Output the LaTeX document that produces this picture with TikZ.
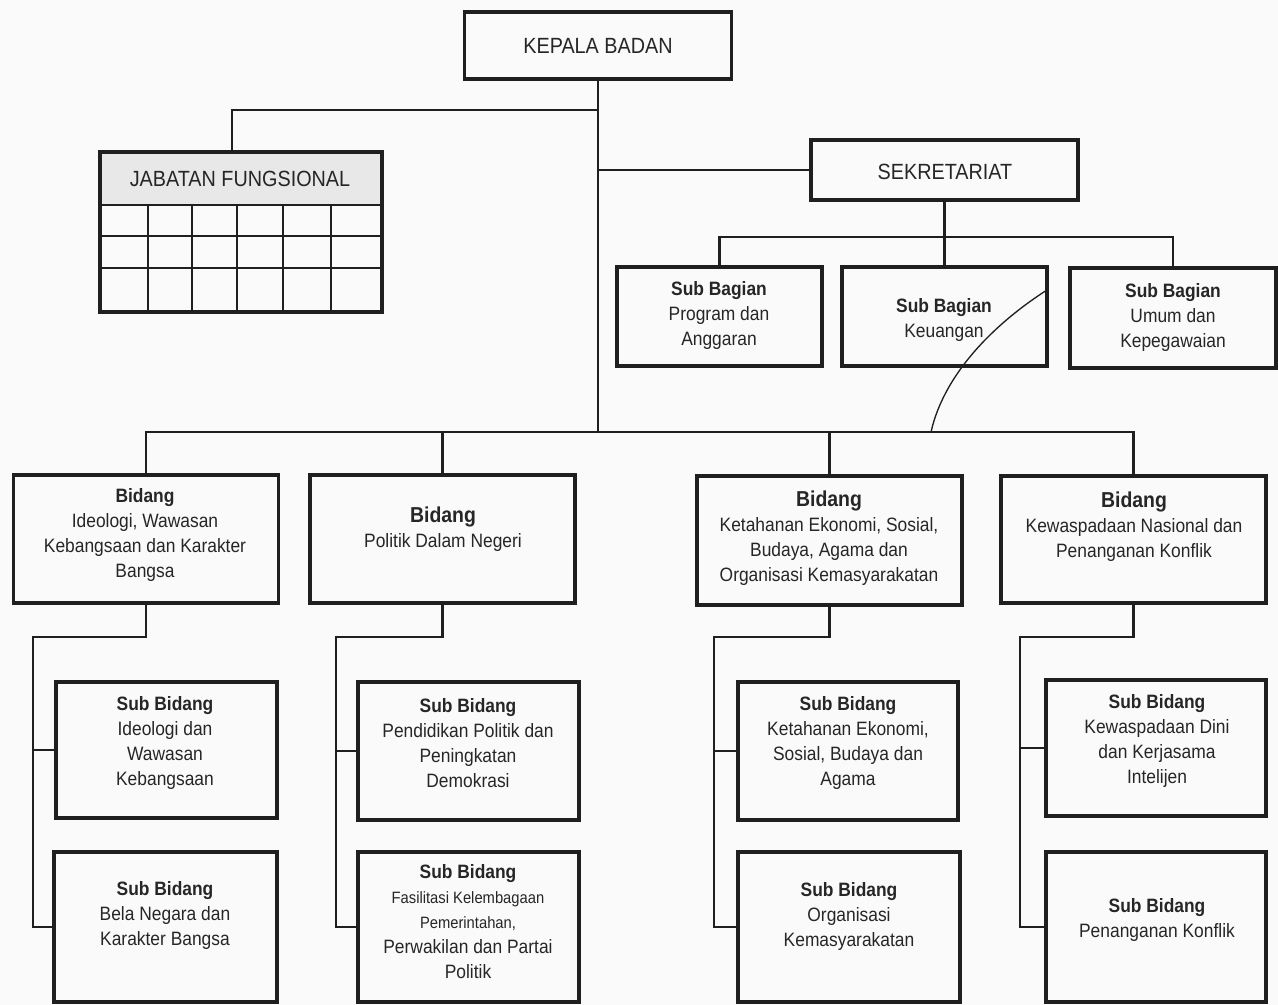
\documentclass[tikz,border=0pt]{standalone}
\usepackage{fontspec}
\setmainfont{Liberation Sans}[FakeStretch=0.9]
\usetikzlibrary{calc,positioning}

\newcommand{\px}{0.75pt}
\newcommand{\bodyfont}{\fontsize{14.5}{18.75}\selectfont}
\newcommand{\titlefont}{\fontsize{16.5}{20}\selectfont}
\newcommand{\smallbody}{\fontsize{12.3}{17.5}\selectfont}
\newcommand{\bighead}[1]{{\fontsize{16.2}{18.75}\selectfont\bfseries #1}}

\begin{document}
\begin{tikzpicture}[x=0.75pt,y=-0.75pt]
	\tikzstyle{every node}=[font=\bodyfont, text=black!85]
	\tikzstyle{box}=[draw=black!88, line width=2.3pt, inner sep=0pt]
	\tikzstyle{txt}=[align=center, inner sep=0pt]
	\tikzstyle{link}=[draw=black!88, line width=2.1pt]
	\fill[gray!4] (0,0) rectangle (1278,1005);
	\useasboundingbox (0,0) rectangle (1278,1005);
	% top
	\node[box, minimum width=267*\px, minimum height=67*\px] (kepala) at (598,45.5) {};
	\node[txt, font=\titlefont] (kepalatxt) at (kepala) {KEPALA BADAN};
	\fill[gray!18] (100,152) rectangle (382,205);
	\node[box, minimum width=282*\px, minimum height=160*\px] (fungsional) at (241,232) {};
	\node[txt, font=\titlefont] (fungsionaltxt) at (240,179) {JABATAN FUNGSIONAL};
	\draw[line width=2.1pt, black!88] (100,205) -- (382,205);
	\draw[line width=1.7pt, black!88] (100,236) -- (382,236);
	\draw[line width=1.7pt, black!88] (100,268) -- (382,268);
	\draw[line width=1.7pt, black!88] (148,205) -- (148,312);
	\draw[line width=1.7pt, black!88] (192,205) -- (192,312);
	\draw[line width=1.7pt, black!88] (237,205) -- (237,312);
	\draw[line width=1.7pt, black!88] (283,205) -- (283,312);
	\draw[line width=1.7pt, black!88] (331,205) -- (331,312);
	\node[box, minimum width=267*\px, minimum height=60*\px] (sekretariat) at (944.5,170) {};
	\node[txt, font=\titlefont] (sekretariattxt) at (945,172) {SEKRETARIAT};
	% sub bagian
	\node[box, minimum width=205*\px, minimum height=99*\px] (subprog) at (719.5,316.5) {};
	\node[box, minimum width=205*\px, minimum height=99*\px] (subkeu) at (944.5,316.5) {};
	\node[box, minimum width=206*\px, minimum height=100*\px] (subumum) at (1173,318) {};
	\node[txt] (subprogtxt) at (719,316) {\textbf{Sub Bagian}\\Program dan\\Anggaran};
	\node[txt] (subkeutxt) at (944,320) {\textbf{Sub Bagian}\\Keuangan};
	\node[txt] (subumumtxt) at (1173,318) {\textbf{Sub Bagian}\\Umum dan\\Kepegawaian};
	% bidang
	\node[box, minimum width=265*\px, minimum height=128*\px] (bidang1) at (146,539) {};
	\node[box, minimum width=265*\px, minimum height=128*\px] (bidang2) at (442.5,539) {};
	\node[box, minimum width=265*\px, minimum height=129*\px] (bidang3) at (829.5,540.5) {};
	\node[box, minimum width=265*\px, minimum height=127*\px] (bidang4) at (1133.5,539.5) {};
	\node[txt] (bidang1txt) at (145,535) {\textbf{Bidang}\\Ideologi, Wawasan\\Kebangsaan dan Karakter\\Bangsa};
	\node[txt] (bidang2txt) at (443,529) {\bighead{Bidang}\\Politik Dalam Negeri};
	\node[txt] (bidang3txt) at (829,538) {\bighead{Bidang}\\Ketahanan Ekonomi, Sosial,\\Budaya, Agama dan\\Organisasi Kemasyarakatan};
	\node[txt] (bidang4txt) at (1134,527) {\bighead{Bidang}\\Kewaspadaan Nasional dan\\Penanganan Konflik};
	% sub bidang
	\node[box, minimum width=221*\px, minimum height=136*\px] (subbid11) at (166.5,750) {};
	\node[box, minimum width=223*\px, minimum height=150*\px] (subbid12) at (165.5,927) {};
	\node[box, minimum width=221*\px, minimum height=138*\px] (subbid21) at (468.5,751) {};
	\node[box, minimum width=221*\px, minimum height=150*\px] (subbid22) at (468.5,927) {};
	\node[box, minimum width=220*\px, minimum height=138*\px] (subbid31) at (848,751) {};
	\node[box, minimum width=222*\px, minimum height=150*\px] (subbid32) at (849,927) {};
	\node[box, minimum width=220*\px, minimum height=136*\px] (subbid41) at (1156,748) {};
	\node[box, minimum width=220*\px, minimum height=150*\px] (subbid42) at (1156,927) {};
	\node[txt] (subbid11txt) at (165,743) {\textbf{Sub Bidang}\\Ideologi dan\\Wawasan\\Kebangsaan};
	\node[txt] (subbid12txt) at (165,915) {\textbf{Sub Bidang}\\Bela Negara dan\\Karakter Bangsa};
	\node[txt] (subbid21txt) at (468,743) {\textbf{Sub Bidang}\\Pendidikan Politik dan\\Peningkatan\\Demokrasi};
	\node[txt] (subbid22txt) at (468,922) {\textbf{Sub Bidang}\\{\smallbody Fasilitasi Kelembagaan}\\{\smallbody Pemerintahan,}\\Perwakilan dan Partai\\Politik};
	\node[txt] (subbid31txt) at (848,743) {\textbf{Sub Bidang}\\Ketahanan Ekonomi,\\Sosial, Budaya dan\\Agama};
	\node[txt] (subbid32txt) at (849,916) {\textbf{Sub Bidang}\\Organisasi\\Kemasyarakatan};
	\node[txt] (subbid41txt) at (1157,741) {\textbf{Sub Bidang}\\Kewaspadaan Dini\\dan Kerjasama\\Intelijen};
	\node[txt] (subbid42txt) at (1157,920) {\textbf{Sub Bidang}\\Penanganan Konflik};
	% connectors
	\coordinate (jfjoint) at (232,110);
	\coordinate (bus) at (598,432);
	\coordinate (sekbus) at (944.5,237);
	\draw[link] (kepala.south) -- (bus);
	\draw[link] (kepala.south |- jfjoint) -| (fungsional.north -| jfjoint);
	\draw[link] (kepala.south |- sekretariat.west) -- (sekretariat.west);
	\draw[link] (sekretariat.south) -- (sekbus);
	\draw[link] (subprog.north) |- (sekbus) -| (subumum.north);
	\draw[link] (sekbus) -- (subkeu.north);
	\draw[link] (bidang1.north) |- (bus) -| (bidang4.north);
	\draw[link] (bus -| bidang2.north) -- (bidang2.north);
	\draw[link] (bus -| bidang3.north) -- (bidang3.north);
	\coordinate (rail1) at (33,637);
	\coordinate (rail2) at (336,637);
	\coordinate (rail3) at (714,637);
	\coordinate (rail4) at (1020,637);
	\draw[link] (bidang1.south) |- (rail1) |- (subbid12.west);
	\draw[link] (rail1 |- subbid11.west) -- (subbid11.west);
	\draw[link] (bidang2.south) |- (rail2) |- (subbid22.west);
	\draw[link] (rail2 |- subbid21.west) -- (subbid21.west);
	\draw[link] (bidang3.south) |- (rail3) |- (subbid32.west);
	\draw[link] (rail3 |- subbid31.west) -- (subbid31.west);
	\draw[link] (bidang4.south) |- (rail4) |- (subbid42.west);
	\draw[link] (rail4 |- subbid41.west) -- (subbid41.west);
	% stray stroke
	\coordinate (strokestart) at (1047,290);
	\draw[line width=1pt, black!88] (strokestart) .. controls (1000,320) and (945,370) .. (931,432);
\end{tikzpicture}
\end{document}
